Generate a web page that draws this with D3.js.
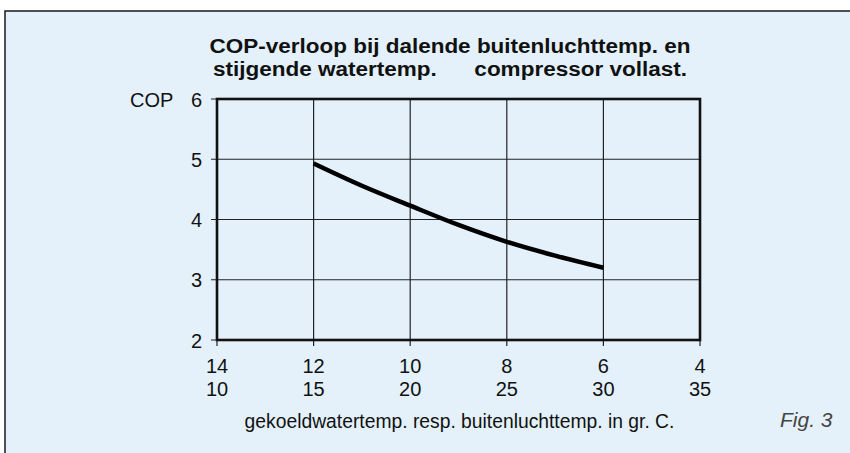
<!DOCTYPE html>
<html><head><meta charset="utf-8">
<script src="https://cdn.jsdelivr.net/npm/d3@7"></script>
<style>
html,body{margin:0;padding:0;background:#fff;}
svg{display:block;font-family:"Liberation Sans",Arial,Helvetica,sans-serif;}
</style></head>
<body><svg id="chart" width="850" height="453"></svg>
<script>
// Data
const waterTemps = [12, 11, 10, 9, 8, 7, 6];          // gekoeldwatertemp.
const copValues  = [4.93, 4.56, 4.23, 3.91, 3.63, 3.40, 3.20];
const xTicksWater = [14, 12, 10, 8, 6, 4];
const xTicksAir   = [10, 15, 20, 25, 30, 35];
const yTicks      = [2, 3, 4, 5, 6];
const titleLines  = ["COP-verloop bij dalende buitenluchttemp. en",
                     "stijgende watertemp.\u00A0\u00A0\u00A0\u00A0\u00A0 compressor vollast."];

const svg = d3.select("#chart");
// panel
svg.append("rect").attr("x",5).attr("y",11).attr("width",900).attr("height",500)
  .attr("fill","#e4f1fb").attr("stroke","#1a1a1a").attr("stroke-width",1.5);

const L=217, R=700, T=99, B=340;
const x = d3.scaleLinear().domain([14,4]).range([L,R]);
const y = d3.scaleLinear().domain([2,6]).range([B,T]);

// grid
const g = svg.append("g");
g.selectAll(".vg").data(xTicksWater).join("line")
  .attr("x1",d=>x(d)).attr("x2",d=>x(d)).attr("y1",T).attr("y2",B+6)
  .attr("stroke","#222").attr("stroke-width",1.2);
g.selectAll(".hg").data(yTicks).join("line")
  .attr("x1",L-6).attr("x2",R).attr("y1",d=>y(d)).attr("y2",d=>y(d))
  .attr("stroke","#222").attr("stroke-width",1.2);
// frame
g.append("rect").attr("x",L).attr("y",T).attr("width",R-L).attr("height",B-T)
  .attr("fill","none").attr("stroke","#111").attr("stroke-width",2.6);

// y labels
svg.selectAll(".yl").data(yTicks).join("text")
  .attr("x",202).attr("y",d=>y(d)+7.5).attr("text-anchor","end")
  .attr("font-size",20).attr("fill","#111").text(d=>d);
svg.append("text").attr("x",130).attr("y",y(6)+7.5).attr("font-size",20).attr("fill","#111").text("COP");

// x labels
svg.selectAll(".xl1").data(xTicksWater).join("text")
  .attr("x",d=>x(d)).attr("y",372.7).attr("text-anchor","middle")
  .attr("font-size",20).attr("fill","#111").text(d=>d);
svg.selectAll(".xl2").data(xTicksAir).join("text")
  .attr("x",(d,i)=>x(xTicksWater[i])).attr("y",395.7).attr("text-anchor","middle")
  .attr("font-size",20).attr("fill","#111").text(d=>d);

svg.append("text").attr("x",459.5).attr("y",428).attr("text-anchor","middle")
  .attr("font-size",19.3).attr("fill","#111").text("gekoeldwatertemp. resp. buitenluchttemp. in gr. C.");
svg.append("text").attr("x",780).attr("y",427).attr("font-size",21).attr("font-style","italic")
  .attr("fill","#444").text("Fig. 3");

// title
const titleWidths = [481, 474];
svg.selectAll(".tl").data(titleLines).join("text")
  .attr("x",450).attr("y",(d,i)=>53.3+i*22.4).attr("text-anchor","middle")
  .attr("font-size",20).attr("font-weight","bold").attr("fill","#111")
  .attr("textLength",(d,i)=>titleWidths[i]).attr("lengthAdjust","spacingAndGlyphs")
  .text(d=>d);

// curve
const line = d3.line().x((d,i)=>x(waterTemps[i])).y(d=>y(d)).curve(d3.curveMonotoneX);
svg.append("path").datum(copValues).attr("d",line).attr("fill","none")
  .attr("stroke","#000").attr("stroke-width",4.5);
</script></body></html>
